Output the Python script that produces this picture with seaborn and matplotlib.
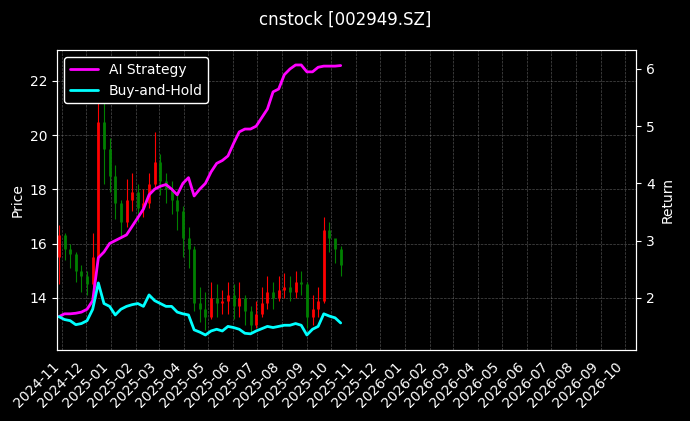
import seaborn as sns
import matplotlib.pyplot as plt
import matplotlib.dates as mdates
import pandas as pd
import numpy as np

# weekly data
fechas = pd.date_range("2024-10-28", periods=51, freq="7D")
cierre = [16.3, 15.8, 15.6, 15.0, 14.8, 14.5, 15.5, 20.5, 19.5, 18.5, 17.5, 16.8, 17.6,
          17.9, 17.3, 17.5, 18.2, 19.0, 18.3, 18.0, 17.6, 17.2, 16.2, 15.8, 13.8, 13.6,
          13.3, 14.0, 13.8, 13.9, 14.1, 13.7, 14.0, 13.5, 13.0, 13.4, 13.8, 14.2, 14.0,
          14.3, 14.4, 14.2, 14.6, 14.5, 13.3, 13.6, 13.9, 16.5, 16.2, 15.8, 15.2]
apertura = [15.5] + cierre[:-1]
maximo = [16.7, 16.4, 16.0, 15.7, 15.2, 15.0, 16.4, 22.6, 21.3, 19.9, 18.9, 17.6, 18.4,
          18.6, 18.2, 18.0, 18.6, 20.1, 19.3, 18.6, 18.3, 17.9, 17.4, 16.6, 15.9, 14.4,
          14.2, 14.6, 14.5, 14.3, 14.6, 14.5, 14.6, 14.1, 13.7, 13.9, 14.4, 14.8, 14.6,
          14.8, 14.9, 14.8, 15.0, 15.0, 14.6, 14.1, 14.4, 17.0, 16.8, 16.0, 15.9]
minimo = [14.5, 15.4, 15.1, 14.6, 14.2, 14.1, 14.4, 15.4, 18.2, 17.9, 16.9, 16.2, 16.6,
          17.2, 16.8, 17.0, 17.3, 18.0, 17.8, 17.5, 17.1, 16.5, 15.5, 15.1, 13.5, 13.1,
          12.8, 13.2, 13.3, 13.4, 13.4, 13.2, 13.3, 13.0, 12.7, 12.9, 13.3, 13.6, 13.6,
          13.9, 14.0, 13.9, 14.0, 14.1, 12.9, 13.0, 13.3, 13.8, 15.7, 15.3, 14.8]
ret_ai = [1.67, 1.72, 1.72, 1.73, 1.75, 1.8, 1.95, 2.7, 2.8, 2.95, 3.0, 3.05, 3.1, 3.25,
          3.4, 3.55, 3.8, 3.9, 3.95, 3.98, 3.9, 3.8, 4.0, 4.1, 3.78, 3.9, 4.0, 4.2, 4.35,
          4.4, 4.48, 4.7, 4.9, 4.95, 4.95, 5.0, 5.15, 5.3, 5.6, 5.65, 5.9, 6.0, 6.07, 6.07,
          5.95, 5.95, 6.03, 6.05, 6.05, 6.05, 6.06]
ret_bh = [1.67, 1.62, 1.6, 1.53, 1.55, 1.6, 1.8, 2.26, 1.9, 1.85, 1.7, 1.8, 1.85, 1.88,
          1.9, 1.85, 2.05, 1.95, 1.9, 1.85, 1.85, 1.75, 1.72, 1.7, 1.44, 1.4, 1.35, 1.42,
          1.45, 1.42, 1.5, 1.48, 1.45, 1.38, 1.37, 1.42, 1.46, 1.5, 1.48, 1.5, 1.52, 1.52,
          1.55, 1.52, 1.35, 1.45, 1.5, 1.72, 1.68, 1.65, 1.56]

datos = pd.DataFrame({"fecha": fechas, "open": apertura, "high": maximo, "low": minimo,
                      "close": cierre, "AI Strategy": ret_ai, "Buy-and-Hold": ret_bh})

sns.set_style("darkgrid")
plt.rcParams.update({"figure.facecolor": "black", "axes.facecolor": "black",
                     "text.color": "white", "axes.labelcolor": "white",
                     "xtick.color": "white", "ytick.color": "white",
                     "axes.edgecolor": "white", "font.family": ["DejaVu Sans"]})

fig, ax = plt.subplots(figsize=(6.9, 4.21), dpi=100)
fig.subplots_adjust(left=0.083, right=0.922, top=0.881, bottom=0.169)

colores = np.where(datos["close"] >= datos["open"], "red", "green")
ax.vlines(datos["fecha"], datos["low"], datos["high"], colors=colores, linewidth=0.8)
ax.vlines(datos["fecha"], datos[["open", "close"]].min(axis=1),
          datos[["open", "close"]].max(axis=1), colors=colores, linewidth=2)
ax.set_ylim(12.08, 23.14)
ax.set_ylabel("Price")
ax.grid(True, color="gray", linestyle="--", linewidth=0.5, alpha=0.6)

ax2 = ax.twinx()
sns.lineplot(data=datos, x="fecha", y="AI Strategy", ax=ax2, color="magenta", linewidth=2, label="AI Strategy")
sns.lineplot(data=datos, x="fecha", y="Buy-and-Hold", ax=ax2, color="cyan", linewidth=2, label="Buy-and-Hold")
ax2.set_ylim(1.09, 6.33)
ax2.set_ylabel("Return")
ax2.grid(False)
leg = ax2.legend(loc="upper left", facecolor="black", edgecolor="white", framealpha=1)
for t in leg.get_texts():
    t.set_color("white")

ax.set_xlim(pd.Timestamp("2024-10-26"), pd.Timestamp("2026-10-15"))
ax.xaxis.set_major_locator(mdates.MonthLocator())
ax.xaxis.set_major_formatter(mdates.DateFormatter("%Y-%m"))
ax2.set_xlabel("")
plt.setp(ax.get_xticklabels(), rotation=45, ha="right")
for s in list(ax.spines.values()) + list(ax2.spines.values()):
    s.set_color("white")

fig.suptitle("cnstock [002949.SZ]", y=0.975)
plt.savefig("out.png", dpi=100, facecolor="black")
